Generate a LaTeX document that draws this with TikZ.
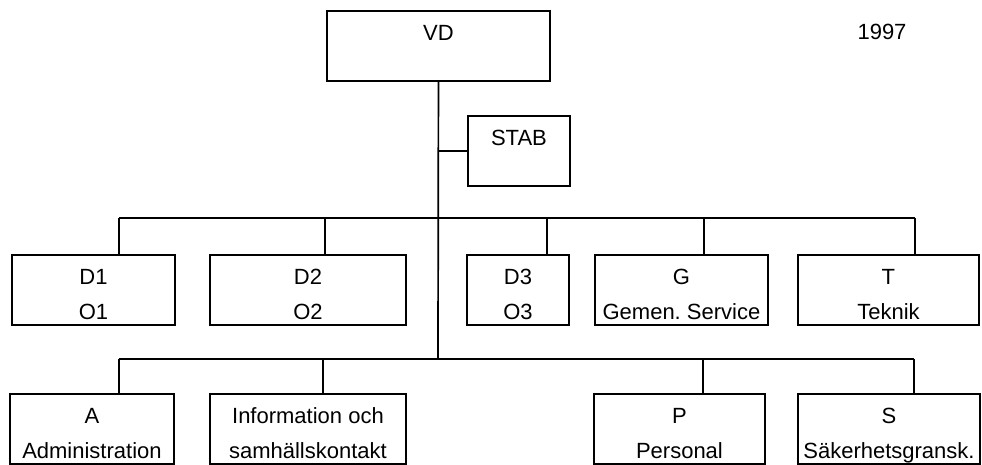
\documentclass[tikz,border=0pt]{standalone}
\usepackage{fontspec}
\setmainfont{Liberation Sans}
\usepackage{tikz}
\frenchspacing

\newcommand{\twolines}[2]{\rule{0pt}{30pt}#1\\#2\rule[-5pt]{0pt}{0pt}}

\begin{document}
\begin{tikzpicture}[
        x=1pt, y=-1pt,
        unitbox/.style={draw, line width=1.9pt, anchor=north west, inner sep=0pt, minimum height=70pt, align=center, font=\fontsize{22}{35}\selectfont},
        link/.style={line width=1.7pt}
    ]
        \useasboundingbox (0,0) rectangle (982,465);

        \node[unitbox, minimum width=223pt] (vd) at (326,10) {\twolines{VD}{}};
        \node[unitbox, minimum width=102pt] (stab) at (467,115) {\twolines{STAB}{}};
        \node[font=\fontsize{22}{35}\selectfont] (year) at (882,32) {1997};

        % first row of units
        \node[unitbox, minimum width=163pt] (d1) at (11,254) {\twolines{D1}{O1}};
        \node[unitbox, minimum width=196pt] (d2) at (209,254) {\twolines{D2}{O2}};
        \node[unitbox, minimum width=102pt] (d3) at (466,254) {\twolines{D3}{O3}};
        \node[unitbox, minimum width=173pt] (g) at (594,254) {\twolines{G}{Gemen. Service}};
        \node[unitbox, minimum width=181pt] (t) at (797,254) {\twolines{T}{Teknik}};

        % second row of units
        \node[unitbox, minimum width=164pt] (a) at (9,393) {\twolines{A}{Administration}};
        \node[unitbox, minimum width=196pt] (info) at (209,393) {\twolines{Information och}{samhällskontakt}};
        \node[unitbox, minimum width=171pt] (p) at (593,393) {\twolines{P}{Personal}};
        \node[unitbox, minimum width=182pt] (s) at (797,393) {\twolines{S}{Säkerhetsgransk.}};

        \coordinate (bustwo) at (438,359);
        \draw[link] (vd.south) -- (bustwo);
        \draw[link] (stab.west) -- (stab.west -| vd.south);

        \foreach \n/\x in {d1/119, d2/325, d3/547, g/704, t/915} {
            \coordinate (tap\n) at (\x,218);
            \draw[link] (tap\n) -- (tap\n |- \n.north);
        }
        \draw[link] (tapd1) -- (tapt);

        \foreach \n/\x in {a/119, info/323, p/703, s/914} {
            \coordinate (tap\n) at (\x,359);
            \draw[link] (tap\n) -- (tap\n |- \n.north);
        }
        \draw[link] (tapa) -- (taps);
    \end{tikzpicture}
\end{document}
